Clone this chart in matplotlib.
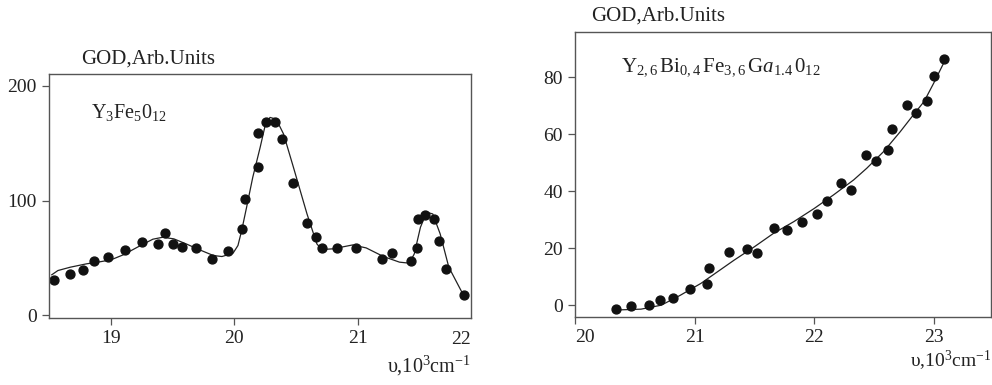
import matplotlib
matplotlib.use("Agg")
import matplotlib.pyplot as plt

plt.rcParams['font.family'] = ['Liberation Serif', 'DejaVu Serif']
plt.rcParams['mathtext.fontset'] = 'custom'
plt.rcParams['mathtext.rm'] = 'Liberation Serif'
plt.rcParams['mathtext.it'] = 'Liberation Serif:italic'

# ---- Left panel: Y3Fe5O12 ----
left_x = [18.54, 18.67, 18.77, 18.86, 18.98, 19.11, 19.25, 19.38, 19.44, 19.50,
          19.58, 19.69, 19.82, 19.95, 20.06, 20.09, 20.19, 20.19, 20.26, 20.33,
          20.39, 20.48, 20.59, 20.66, 20.71, 20.83, 20.99, 21.20, 21.28, 21.43,
          21.48, 21.49, 21.55, 21.62, 21.66, 21.72, 21.86]
left_y = [30.7, 36.2, 39.4, 47.2, 51.0, 57.1, 64.1, 62.0, 71.9, 62.0,
          59.7, 58.8, 49.0, 55.9, 75.1, 101.7, 129.0, 158.6, 168.4, 168.1,
          153.3, 115.7, 80.3, 68.4, 59.1, 59.1, 58.8, 49.0, 54.5, 47.2,
          59.1, 84.1, 87.8, 84.3, 65.2, 40.0, 17.7]
left_curve_x = [18.52, 18.57, 18.67, 18.80, 18.91, 19.00, 19.10, 19.24, 19.34, 19.42,
                19.51, 19.61, 19.72, 19.83, 19.90, 19.99, 20.03, 20.06, 20.10, 20.15,
                20.21, 20.25, 20.29, 20.34, 20.40, 20.48, 20.59, 20.67, 20.71, 20.80,
                20.96, 21.07, 21.21, 21.34, 21.42, 21.46, 21.51, 21.56, 21.61, 21.67,
                21.74, 21.86]
left_curve_y = [35.4, 39.1, 42.0, 44.9, 46.7, 48.4, 52.8, 60.9, 66.4, 68.1,
                66.7, 62.3, 57.1, 52.2, 51.3, 54.2, 60.9, 73.9, 94.2, 120.3,
                146.4, 165.2, 172.5, 171.0, 158.0, 129.0, 88.4, 62.3, 57.4, 58.0,
                61.4, 58.8, 51.3, 46.4, 45.5, 53.6, 76.8, 89.9, 88.4, 71.0,
                42.0, 17.4]
left_xticks = [19, 20, 21]
left_yticks = [0, 100, 200]

# ---- Right panel: Y2.6Bi0.4Fe3.6Ga1.4O12 ----
right_x = [20.34, 20.47, 20.62, 20.71, 20.82, 20.96, 21.10, 21.12, 21.29, 21.44,
           21.52, 21.66, 21.77, 21.90, 22.02, 22.11, 22.22, 22.31, 22.43, 22.52,
           22.62, 22.65, 22.78, 22.85, 22.94, 23.00, 23.09]
right_y = [-1.3, -0.35, 0.2, 1.75, 2.5, 5.7, 7.6, 13.1, 18.6, 19.8,
           18.4, 27.0, 26.3, 29.2, 32.2, 36.7, 43.0, 40.6, 52.9, 50.8,
           54.4, 62.0, 70.4, 67.4, 71.7, 80.5, 86.3]
right_curve_x = [20.34, 20.55, 20.72, 20.88, 21.05, 21.19, 21.33, 21.50, 21.66, 21.83,
                 22.00, 22.16, 22.33, 22.44, 22.58, 22.72, 22.83, 22.92, 23.00, 23.09]
right_curve_y = [-1.6, -1.3, 0.1, 3.6, 7.7, 11.8, 15.9, 20.6, 25.3, 29.4,
                 34.0, 38.7, 44.0, 48.1, 53.9, 60.9, 66.8, 71.5, 77.9, 85.5]
right_xticks = [20, 21, 22, 23]
right_yticks = [0, 20, 40, 60, 80]

fig = plt.figure(figsize=(9.92, 3.85), dpi=100)
ax1 = fig.add_axes([0.0497, 0.1748, 0.4251, 0.632])
ax2 = fig.add_axes([0.580, 0.177, 0.419, 0.741])

spine_col = '#555555'
text_col = '#222222'
xlabel = r'$\mathrm{\upsilon{,}10^3cm^{-1}}$'

def style(ax):
    for s in ax.spines.values():
        s.set_color(spine_col)
        s.set_linewidth(1.0)
    ax.tick_params(direction='out', length=5, width=0.9, color=spine_col,
                   labelsize=14, labelcolor=text_col, pad=4)

# left
ax1.plot(left_curve_x, left_curve_y, color='#222222', lw=0.9)
ax1.plot(left_x, left_y, 'o', color='#111111', ms=6.4, mec='#111111')
ax1.set_xlim(18.5, 21.92)
ax1.set_ylim(-2, 210)
ax1.set_xticks(left_xticks)
ax1.set_yticks(left_yticks)
style(ax1)
ax1.text(1.0, -0.055, '22', transform=ax1.transAxes, ha='right', va='top',
         fontsize=14, color=text_col)
ax1.text(0.076, 1.025, 'GOD,Arb.Units', transform=ax1.transAxes, ha='left',
         va='bottom', fontsize=15, color=text_col)
ax1.text(0.10, 0.82, r'$\mathrm{Y_3Fe_50_{12}}$', transform=ax1.transAxes,
         ha='left', va='baseline', fontsize=14.5, color=text_col)
ax1.text(1.0, -0.15, xlabel, transform=ax1.transAxes,
         ha='right', va='top', fontsize=14.5, color=text_col)

# right
ax2.plot(right_curve_x, right_curve_y, color='#222222', lw=0.9)
ax2.plot(right_x, right_y, 'o', color='#111111', ms=6.4, mec='#111111')
ax2.set_xlim(20, 23.48)
ax2.set_ylim(-4, 96)
ax2.set_xticks(right_xticks)
ax2.set_yticks(right_yticks)
style(ax2)
ax2.get_xticklabels()[0].set_horizontalalignment('left')
ax2.text(0.037, 1.02, 'GOD,Arb.Units', transform=ax2.transAxes, ha='left',
         va='bottom', fontsize=15, color=text_col)
ax2.text(0.109, 0.86,
         r'$\mathrm{Y_{2,6}\,Bi_{0,4}\,Fe_{3,6}\,G}\mathit{a}\mathrm{_{1.4}\,0_{12}}$',
         transform=ax2.transAxes, ha='left', va='baseline', fontsize=15,
         color=text_col)
ax2.text(1.0, -0.112, xlabel, transform=ax2.transAxes,
         ha='right', va='top', fontsize=14, color=text_col)

fig.savefig('out.png', dpi=100)
